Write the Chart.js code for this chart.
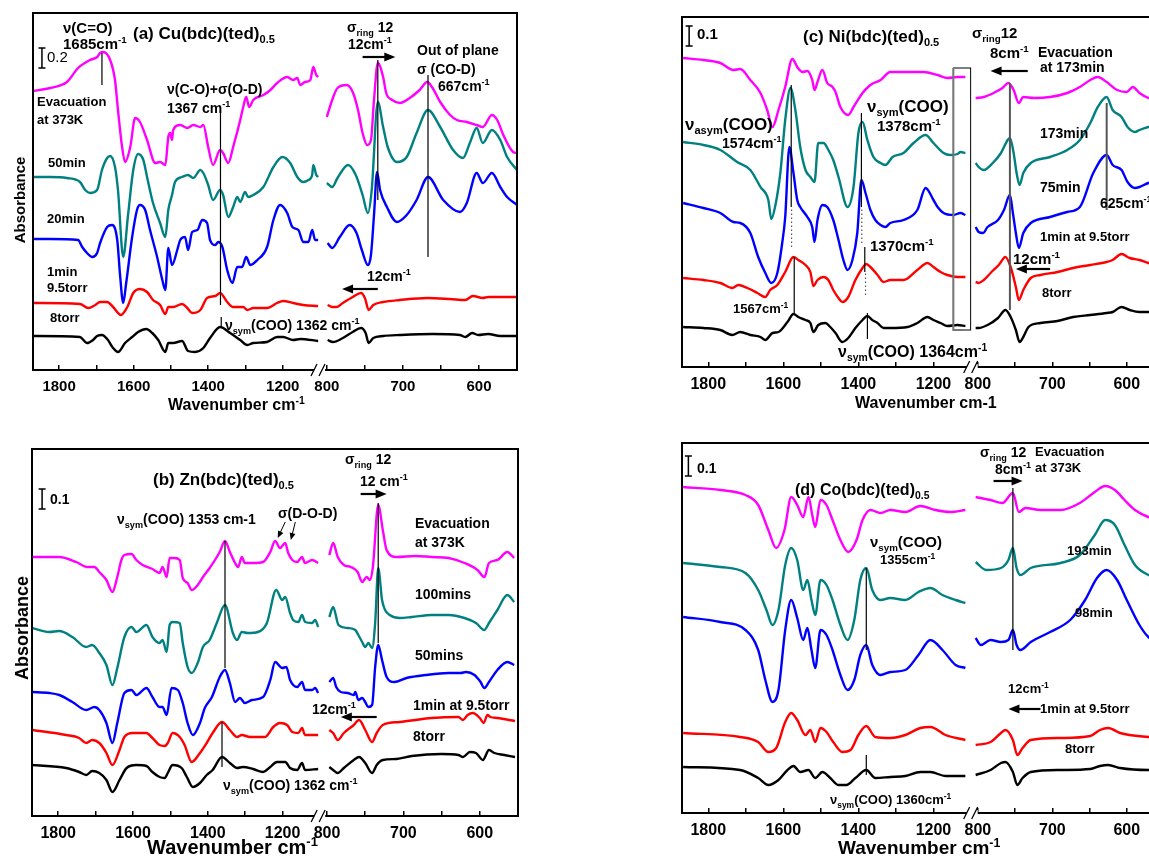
<!DOCTYPE html>
<html>
<head>
<meta charset="utf-8">
<title>IR spectra of M(bdc)(ted)0.5 under D2O</title>
<script src="https://cdn.jsdelivr.net/npm/chart.js@4.4.1/dist/chart.umd.min.js"></script>
<style>
  html, body { margin: 0; padding: 0; background: #fff; }
  body { position: relative; width: 1149px; height: 858px; overflow: hidden; font-family: "Liberation Sans", Arial, sans-serif; }
  .box { position: absolute; }
  .t { position: absolute; white-space: nowrap; line-height: 1; color: #000; }
  .t sub, .t sup { font-size: 65%; line-height: 0; }
  .rot { transform: translate(-50%, -50%) rotate(-90deg); }
</style>
</head>
<body>
<script>
const FONT = '"Liberation Sans", Arial, sans-serif';
const COLORS = ["#ff00ff", "#008080", "#0000ff", "#ff0000", "#000000"];

// x axis ticks (wavenumber, cm-1) of the two halves of the broken axis
const LEFT_TICKS = [1800, 1700, 1600, 1500, 1400, 1300, 1200];
const RIGHT_TICKS = [800, 750, 700, 650, 600];

// ---- (a) Cu(bdc)(ted)0.5 : [wavenumber, absorbance] ----
const A_L_EVAC = [[1870,2.79],[1824,2.82],[1779,2.88],[1749,3.02],[1717,3.10],[1698,3.13],[1690,3.17],[1682,3.18],[1663,3.10],[1650,2.90],[1642,2.60],[1631,2.23],[1623,2.08],[1609,2.23],[1596,2.52],[1583,2.48],[1564,2.30],[1542,2.07],[1529,2.08],[1515,2.05],[1507,2.33],[1502,2.37],[1497,2.30],[1494,2.40],[1475,2.45],[1456,2.42],[1440,2.45],[1421,2.43],[1413,2.45],[1400,2.23],[1387,2.05],[1368,2.20],[1360,2.17],[1346,2.07],[1333,2.23],[1314,2.50],[1306,2.63],[1298,2.73],[1290,2.63],[1279,2.70],[1252,2.75],[1233,2.80],[1215,2.87],[1188,2.93],[1172,2.90],[1161,2.92],[1153,2.85],[1140,2.88],[1126,2.90],[1118,3.03],[1110,2.95],[1105,2.93]];
const A_L_50 = [[1870,1.93],[1824,1.93],[1779,1.92],[1744,1.88],[1730,1.80],[1717,1.77],[1698,1.80],[1685,2.00],[1671,2.12],[1663,2.14],[1650,2.03],[1642,1.80],[1628,1.13],[1615,1.55],[1601,2.00],[1588,2.16],[1574,2.10],[1564,1.93],[1548,1.67],[1529,1.47],[1515,1.33],[1507,1.60],[1497,1.75],[1489,1.88],[1470,1.93],[1454,1.95],[1440,1.92],[1421,2.00],[1413,1.97],[1400,1.85],[1387,1.70],[1368,1.80],[1360,1.75],[1346,1.53],[1333,1.63],[1322,1.73],[1314,1.68],[1301,1.78],[1293,1.73],[1279,1.75],[1252,1.83],[1225,2.03],[1201,2.13],[1180,2.07],[1161,1.93],[1145,1.88],[1131,1.90],[1121,1.95],[1118,2.05],[1110,1.95],[1105,1.93]];
const A_L_20 = [[1870,1.31],[1824,1.31],[1749,1.30],[1738,1.23],[1725,1.17],[1711,1.13],[1698,1.17],[1690,1.27],[1671,1.43],[1658,1.45],[1644,1.30],[1636,0.93],[1628,0.67],[1620,0.87],[1604,1.33],[1591,1.60],[1583,1.65],[1569,1.60],[1556,1.40],[1537,1.13],[1523,0.90],[1515,0.80],[1507,1.22],[1497,1.05],[1483,1.20],[1475,1.30],[1462,1.33],[1454,1.20],[1443,1.38],[1429,1.40],[1416,1.50],[1403,1.47],[1395,1.30],[1381,1.25],[1373,1.28],[1362,1.23],[1349,1.00],[1335,0.87],[1322,1.03],[1309,1.03],[1298,1.13],[1287,1.05],[1268,1.10],[1242,1.23],[1225,1.50],[1207,1.65],[1188,1.57],[1174,1.43],[1158,1.40],[1145,1.28],[1131,1.28],[1121,1.40],[1113,1.30],[1105,1.30]];
const A_L_1 = [[1870,0.67],[1744,0.66],[1722,0.62],[1703,0.65],[1690,0.68],[1671,0.68],[1655,0.63],[1634,0.55],[1617,0.63],[1601,0.77],[1583,0.81],[1564,0.78],[1548,0.70],[1529,0.65],[1515,0.56],[1507,0.63],[1494,0.63],[1470,0.66],[1456,0.62],[1443,0.57],[1421,0.60],[1403,0.72],[1381,0.74],[1368,0.77],[1349,0.68],[1333,0.63],[1306,0.63],[1295,0.60],[1279,0.62],[1242,0.62],[1215,0.67],[1199,0.69],[1172,0.67],[1145,0.65],[1105,0.64]];
const A_L_8 = [[1870,0.34],[1744,0.33],[1725,0.27],[1709,0.30],[1698,0.34],[1685,0.35],[1671,0.31],[1655,0.22],[1642,0.18],[1623,0.27],[1604,0.33],[1588,0.38],[1566,0.41],[1550,0.37],[1534,0.30],[1515,0.18],[1507,0.27],[1494,0.27],[1470,0.29],[1454,0.19],[1435,0.18],[1413,0.22],[1395,0.32],[1368,0.43],[1341,0.37],[1314,0.30],[1295,0.25],[1279,0.27],[1242,0.28],[1215,0.33],[1199,0.33],[1172,0.30],[1153,0.31],[1105,0.29]];
const A_R_EVAC = [[800,2.53],[793,2.70],[786,2.82],[774,2.85],[766,2.78],[759,2.60],[753,2.37],[747,2.25],[742,2.30],[738,2.70],[733,3.07],[726,2.93],[722,2.77],[714,2.70],[704,2.67],[691,2.72],[678,2.80],[668,2.88],[661,2.82],[651,2.68],[638,2.55],[629,2.50],[616,2.48],[603,2.45],[595,2.43],[583,2.55],[576,2.50],[568,2.35],[555,2.18],[550,2.17]];
const A_R_50 = [[800,1.87],[793,1.83],[786,1.92],[772,2.05],[762,1.95],[753,1.75],[746,1.57],[741,1.80],[733,2.68],[726,2.43],[720,2.23],[708,2.08],[695,2.13],[682,2.37],[667,2.60],[651,2.43],[634,2.20],[621,2.12],[612,2.27],[603,2.42],[595,2.27],[583,2.40],[572,2.30],[563,2.13],[550,2.00]];
const A_R_20 = [[799,1.27],[793,1.22],[783,1.33],[770,1.45],[761,1.37],[754,1.20],[746,1.05],[742,1.15],[738,1.55],[734,1.98],[730,1.80],[721,1.63],[708,1.48],[695,1.55],[682,1.70],[667,1.93],[647,1.70],[625,1.58],[616,1.67],[603,1.97],[595,1.87],[583,1.97],[572,1.83],[563,1.73],[550,1.65]];
const A_R_1 = [[799,0.65],[793,0.63],[787,0.63],[779,0.67],[766,0.73],[755,0.77],[750,0.72],[745,0.60],[739,0.65],[726,0.68],[704,0.70],[668,0.72],[638,0.71],[618,0.70],[608,0.74],[595,0.72],[588,0.73],[550,0.73]];
const A_R_8 = [[799,0.30],[792,0.28],[779,0.32],[766,0.38],[755,0.42],[749,0.37],[745,0.27],[739,0.32],[726,0.34],[704,0.35],[661,0.36],[625,0.35],[618,0.33],[609,0.37],[601,0.35],[588,0.36],[572,0.34],[550,0.34]];

// ---- (b) Zn(bdc)(ted)0.5 ----
const B_L_EVAC = [[1870,1.295],[1824,1.295],[1797,1.295],[1752,1.27],[1722,1.245],[1703,1.245],[1690,1.22],[1671,1.18],[1655,1.12],[1642,1.195],[1631,1.28],[1623,1.305],[1604,1.31],[1591,1.28],[1574,1.255],[1548,1.235],[1529,1.215],[1521,1.245],[1510,1.195],[1502,1.29],[1489,1.29],[1475,1.28],[1467,1.19],[1454,1.165],[1443,1.13],[1427,1.155],[1413,1.195],[1395,1.24],[1368,1.32],[1354,1.375],[1341,1.32],[1327,1.265],[1319,1.245],[1309,1.295],[1301,1.265],[1279,1.265],[1252,1.27],[1233,1.32],[1220,1.375],[1207,1.34],[1193,1.365],[1185,1.315],[1174,1.28],[1161,1.27],[1148,1.295],[1140,1.265],[1121,1.28],[1105,1.265]];
const B_L_100 = [[1870,0.94],[1824,0.92],[1797,0.925],[1762,0.895],[1725,0.845],[1709,0.855],[1690,0.815],[1671,0.755],[1655,0.655],[1642,0.74],[1623,0.895],[1604,0.945],[1591,0.92],[1564,0.955],[1548,0.895],[1529,0.865],[1521,0.88],[1510,0.82],[1502,0.955],[1494,0.97],[1475,0.965],[1467,0.865],[1454,0.745],[1443,0.715],[1427,0.765],[1413,0.845],[1395,0.88],[1376,0.965],[1354,1.055],[1333,0.915],[1322,0.88],[1309,0.92],[1293,0.915],[1266,0.92],[1242,0.965],[1217,1.13],[1201,1.08],[1193,1.095],[1180,1.015],[1172,0.98],[1158,0.97],[1148,1.005],[1140,0.97],[1121,0.965],[1113,0.98],[1105,0.945]];
const B_L_50 = [[1870,0.62],[1824,0.615],[1797,0.605],[1762,0.57],[1725,0.53],[1703,0.545],[1690,0.53],[1671,0.465],[1655,0.365],[1642,0.465],[1623,0.615],[1604,0.63],[1591,0.605],[1564,0.64],[1548,0.595],[1529,0.545],[1521,0.545],[1510,0.505],[1497,0.64],[1480,0.63],[1467,0.565],[1454,0.465],[1440,0.405],[1421,0.465],[1408,0.54],[1389,0.595],[1368,0.695],[1354,0.73],[1341,0.665],[1327,0.57],[1314,0.59],[1301,0.565],[1282,0.58],[1252,0.595],[1233,0.68],[1220,0.77],[1201,0.74],[1190,0.745],[1180,0.68],[1161,0.645],[1148,0.67],[1140,0.63],[1121,0.63],[1113,0.64],[1105,0.615]];
const B_L_1 = [[1870,0.43],[1779,0.405],[1744,0.39],[1725,0.365],[1709,0.38],[1690,0.365],[1671,0.315],[1655,0.255],[1636,0.33],[1623,0.395],[1601,0.415],[1564,0.415],[1548,0.39],[1529,0.355],[1515,0.35],[1507,0.365],[1494,0.415],[1475,0.395],[1462,0.355],[1443,0.27],[1421,0.315],[1403,0.365],[1387,0.415],[1362,0.47],[1341,0.43],[1322,0.395],[1309,0.405],[1287,0.395],[1247,0.395],[1225,0.445],[1207,0.465],[1188,0.455],[1174,0.42],[1158,0.415],[1148,0.44],[1140,0.405],[1105,0.405]];
const B_L_8 = [[1870,0.255],[1779,0.24],[1744,0.22],[1725,0.205],[1709,0.225],[1690,0.215],[1671,0.18],[1655,0.12],[1636,0.18],[1617,0.24],[1591,0.255],[1564,0.25],[1548,0.22],[1529,0.195],[1515,0.19],[1507,0.215],[1494,0.255],[1470,0.24],[1456,0.195],[1440,0.145],[1421,0.165],[1403,0.205],[1387,0.23],[1362,0.295],[1341,0.265],[1322,0.24],[1306,0.245],[1279,0.235],[1252,0.22],[1233,0.245],[1215,0.27],[1193,0.27],[1180,0.24],[1161,0.23],[1148,0.265],[1140,0.23],[1105,0.235]];
const B_R_EVAC = [[797,1.305],[792,1.365],[786,1.295],[778,1.255],[769,1.245],[760,1.22],[754,1.17],[748,1.195],[744,1.18],[740,1.245],[733,1.555],[727,1.43],[722,1.33],[709,1.295],[684,1.30],[663,1.295],[641,1.29],[620,1.265],[603,1.23],[594,1.195],[588,1.265],[577,1.28],[564,1.32],[555,1.29]];
const B_R_100 = [[797,0.995],[792,1.045],[785,0.955],[773,0.94],[763,0.93],[759,0.905],[754,0.87],[750,0.845],[746,0.865],[741,0.84],[737,0.965],[733,1.24],[728,1.08],[724,1.03],[718,1.005],[705,0.99],[689,0.995],[663,1.005],[641,1.005],[620,0.99],[605,0.965],[594,0.93],[588,0.965],[577,1.03],[564,1.105],[555,1.07]];
const B_R_50 = [[797,0.67],[792,0.69],[788,0.645],[782,0.62],[773,0.615],[765,0.605],[763,0.62],[759,0.58],[754,0.59],[750,0.57],[746,0.545],[741,0.555],[737,0.745],[733,0.855],[728,0.78],[722,0.695],[712,0.67],[696,0.69],[671,0.705],[641,0.715],[625,0.715],[618,0.72],[607,0.705],[599,0.67],[594,0.64],[588,0.67],[577,0.73],[564,0.77],[555,0.755]];
const B_R_1 = [[797,0.43],[792,0.415],[786,0.38],[778,0.415],[765,0.455],[758,0.48],[750,0.43],[741,0.37],[735,0.415],[727,0.455],[705,0.47],[663,0.49],[628,0.495],[622,0.48],[616,0.505],[609,0.515],[600,0.49],[595,0.465],[590,0.505],[586,0.495],[577,0.49],[554,0.475]];
const B_R_8 = [[797,0.245],[792,0.23],[786,0.215],[778,0.24],[765,0.28],[758,0.295],[750,0.265],[741,0.215],[735,0.255],[727,0.28],[709,0.285],[689,0.30],[650,0.31],[628,0.305],[622,0.295],[613,0.32],[605,0.315],[596,0.28],[588,0.33],[581,0.315],[568,0.305],[554,0.295]];

// ---- (c) Ni(bdc)(ted)0.5 ----
const C_L_EVAC = [[1867,1.545],[1813,1.535],[1768,1.52],[1733,1.485],[1715,1.49],[1688,1.435],[1661,1.37],[1643,1.285],[1629,1.20],[1613,1.285],[1595,1.40],[1576,1.54],[1563,1.50],[1549,1.475],[1536,1.48],[1523,1.435],[1517,1.385],[1509,1.425],[1496,1.485],[1483,1.42],[1469,1.40],[1461,1.375],[1448,1.30],[1427,1.26],[1413,1.30],[1389,1.37],[1368,1.41],[1341,1.435],[1315,1.475],[1280,1.475],[1227,1.475],[1189,1.46],[1163,1.445],[1136,1.45],[1115,1.45]];
const C_L_173 = [[1867,1.125],[1813,1.11],[1768,1.085],[1723,1.025],[1688,0.985],[1661,0.90],[1640,0.835],[1632,0.74],[1621,0.81],[1608,0.97],[1595,1.235],[1581,1.395],[1568,1.285],[1555,1.10],[1541,0.985],[1528,0.95],[1517,0.925],[1507,1.12],[1493,1.12],[1480,1.085],[1467,1.035],[1453,0.95],[1429,0.80],[1413,0.90],[1400,1.17],[1389,1.225],[1376,1.135],[1360,1.05],[1341,1.02],[1328,1.01],[1309,1.05],[1280,1.07],[1253,1.12],[1221,1.16],[1200,1.12],[1173,1.07],[1155,1.06],[1136,1.065],[1128,1.075],[1115,1.07]];
const C_L_75 = [[1867,0.82],[1813,0.795],[1768,0.77],[1733,0.725],[1715,0.72],[1688,0.67],[1667,0.55],[1648,0.47],[1632,0.42],[1616,0.47],[1603,0.62],[1595,0.75],[1584,1.10],[1573,0.97],[1563,0.835],[1555,0.80],[1536,0.75],[1523,0.70],[1517,0.625],[1509,0.735],[1496,0.81],[1483,0.80],[1467,0.735],[1453,0.635],[1440,0.535],[1429,0.485],[1416,0.535],[1403,0.67],[1392,0.935],[1381,0.87],[1368,0.785],[1355,0.735],[1341,0.71],[1328,0.70],[1315,0.72],[1280,0.735],[1243,0.785],[1221,0.895],[1200,0.835],[1189,0.80],[1173,0.77],[1147,0.76],[1128,0.77],[1115,0.76]];
const C_L_1 = [[1867,0.445],[1813,0.435],[1768,0.42],[1736,0.395],[1720,0.41],[1696,0.395],[1669,0.37],[1648,0.35],[1635,0.385],[1616,0.41],[1595,0.475],[1573,0.55],[1560,0.535],[1541,0.51],[1528,0.475],[1520,0.405],[1509,0.435],[1493,0.45],[1480,0.435],[1467,0.385],[1453,0.345],[1443,0.325],[1427,0.35],[1408,0.435],[1389,0.495],[1379,0.515],[1368,0.50],[1349,0.46],[1333,0.425],[1315,0.435],[1280,0.435],[1243,0.485],[1216,0.52],[1200,0.50],[1181,0.475],[1163,0.46],[1136,0.45],[1115,0.45]];
const C_L_8 = [[1867,0.20],[1813,0.195],[1768,0.185],[1736,0.16],[1715,0.175],[1688,0.16],[1661,0.15],[1648,0.135],[1629,0.17],[1613,0.175],[1589,0.225],[1573,0.265],[1560,0.25],[1541,0.235],[1528,0.22],[1520,0.175],[1507,0.21],[1488,0.22],[1475,0.20],[1461,0.17],[1443,0.125],[1427,0.145],[1408,0.195],[1389,0.235],[1376,0.255],[1363,0.235],[1349,0.22],[1333,0.195],[1315,0.195],[1269,0.20],[1243,0.22],[1216,0.25],[1200,0.235],[1181,0.22],[1163,0.205],[1136,0.21],[1115,0.205]];
const C_R_EVAC = [[803,1.345],[792,1.35],[779,1.37],[767,1.395],[759,1.42],[752,1.385],[745,1.32],[739,1.35],[725,1.345],[703,1.35],[680,1.37],[663,1.40],[649,1.435],[639,1.45],[627,1.425],[613,1.385],[600,1.375],[592,1.40],[583,1.37],[571,1.345],[550,1.325]];
const C_R_173 = [[803,1.02],[799,1.00],[792,0.985],[780,1.02],[769,1.07],[760,1.135],[757,1.145],[752,1.07],[748,0.97],[744,0.91],[739,0.97],[729,1.02],[703,1.05],[680,1.085],[663,1.135],[649,1.22],[639,1.30],[627,1.35],[619,1.285],[607,1.25],[599,1.20],[589,1.175],[583,1.185],[571,1.20],[550,1.21]];
const C_R_75 = [[803,0.70],[799,0.675],[793,0.67],[787,0.70],[773,0.735],[765,0.785],[757,0.86],[753,0.77],[749,0.67],[745,0.595],[739,0.67],[729,0.72],[703,0.75],[680,0.775],[663,0.80],[645,0.97],[627,1.06],[619,1.01],[607,0.985],[599,0.925],[589,0.895],[583,0.90],[571,0.92],[550,0.935]];
const C_R_1 = [[803,0.425],[799,0.42],[792,0.435],[783,0.47],[772,0.51],[763,0.55],[756,0.50],[749,0.40],[745,0.335],[739,0.385],[729,0.445],[716,0.46],[693,0.475],[672,0.495],[649,0.51],[627,0.525],[619,0.535],[607,0.565],[596,0.545],[583,0.535],[571,0.52],[550,0.505]];
const C_R_8 = [[803,0.195],[799,0.195],[787,0.21],[773,0.245],[763,0.285],[756,0.25],[749,0.185],[744,0.125],[739,0.15],[732,0.20],[716,0.22],[693,0.23],[672,0.25],[649,0.26],[627,0.27],[619,0.275],[607,0.30],[596,0.285],[583,0.275],[571,0.275],[550,0.27]];

// ---- (d) Co(bdc)(ted)0.5 ----
const D_L_EVAC = [[1867,1.63],[1768,1.615],[1701,1.59],[1667,1.54],[1640,1.415],[1619,1.325],[1597,1.415],[1579,1.58],[1563,1.54],[1547,1.48],[1533,1.58],[1523,1.49],[1515,1.43],[1501,1.565],[1485,1.54],[1469,1.465],[1448,1.365],[1427,1.305],[1405,1.365],[1389,1.465],[1368,1.515],[1341,1.50],[1315,1.515],[1275,1.505],[1235,1.535],[1195,1.515],[1155,1.505],[1115,1.515]];
const D_L_193 = [[1867,1.25],[1768,1.23],[1701,1.20],[1667,1.115],[1645,1.015],[1629,0.94],[1613,1.015],[1595,1.24],[1579,1.325],[1563,1.265],[1547,1.115],[1536,1.165],[1525,1.065],[1515,0.99],[1501,1.165],[1485,1.14],[1469,1.065],[1448,0.94],[1429,0.865],[1411,0.965],[1395,1.165],[1379,1.225],[1363,1.115],[1341,1.065],[1315,1.075],[1275,1.065],[1240,1.105],[1208,1.125],[1176,1.09],[1141,1.065],[1115,1.05]];
const D_L_98 = [[1867,0.98],[1768,0.955],[1701,0.915],[1667,0.815],[1648,0.665],[1629,0.555],[1613,0.615],[1595,0.915],[1579,1.065],[1563,0.975],[1547,0.865],[1536,0.925],[1525,0.815],[1515,0.725],[1501,0.915],[1485,0.89],[1469,0.815],[1448,0.69],[1429,0.615],[1411,0.665],[1395,0.79],[1379,0.84],[1363,0.74],[1341,0.69],[1315,0.705],[1275,0.715],[1240,0.79],[1208,0.865],[1176,0.815],[1141,0.74],[1115,0.725]];
const D_L_1 = [[1867,0.40],[1715,0.38],[1667,0.355],[1640,0.305],[1619,0.325],[1595,0.455],[1579,0.50],[1563,0.465],[1541,0.39],[1528,0.415],[1515,0.355],[1501,0.425],[1485,0.405],[1467,0.355],[1443,0.305],[1421,0.315],[1400,0.39],[1379,0.435],[1355,0.38],[1315,0.375],[1275,0.39],[1235,0.425],[1208,0.43],[1168,0.39],[1115,0.365]];
const D_L_8 = [[1867,0.23],[1715,0.215],[1667,0.175],[1640,0.14],[1613,0.165],[1589,0.215],[1573,0.235],[1555,0.205],[1533,0.215],[1515,0.175],[1496,0.205],[1475,0.175],[1453,0.14],[1432,0.14],[1408,0.175],[1379,0.215],[1355,0.175],[1315,0.18],[1275,0.185],[1235,0.205],[1208,0.205],[1168,0.185],[1115,0.185]];
const D_R_EVAC = [[803,1.58],[783,1.565],[767,1.55],[753,1.60],[745,1.505],[736,1.525],[716,1.515],[689,1.515],[663,1.55],[643,1.605],[629,1.635],[616,1.615],[603,1.565],[589,1.515],[571,1.48],[550,1.465]];
const D_R_193 = [[803,1.255],[789,1.215],[769,1.225],[759,1.265],[753,1.325],[748,1.225],[743,1.19],[729,1.225],[689,1.25],[663,1.29],[643,1.39],[629,1.465],[616,1.44],[603,1.34],[589,1.24],[571,1.19],[550,1.165]];
const D_R_98 = [[803,0.875],[796,0.84],[783,0.865],[769,0.855],[759,0.865],[753,0.915],[748,0.84],[743,0.815],[729,0.855],[703,0.905],[676,0.965],[656,1.065],[640,1.175],[627,1.215],[613,1.165],[600,1.065],[583,0.94],[571,0.88],[550,0.84]];
const D_R_1 = [[803,0.34],[783,0.355],[769,0.40],[763,0.415],[753,0.365],[747,0.29],[740,0.325],[729,0.365],[689,0.375],[649,0.385],[636,0.415],[625,0.425],[609,0.40],[571,0.38],[550,0.375]];
const D_R_8 = [[803,0.19],[783,0.215],[769,0.25],[763,0.255],[753,0.205],[747,0.14],[740,0.175],[729,0.205],[689,0.215],[649,0.22],[636,0.235],[625,0.24],[609,0.225],[571,0.215],[550,0.215]];

// ---- guide lines, arrows and scale bars, in data units ----
const A_L_MARKS = [
  { k: "bar", x: 1846, y1: 3.02, y2: 3.22 },
  { k: "v", x: 1685, y1: 2.85, y2: 3.17 },
  { k: "v", x: 1367, y1: 0.65, y2: 2.60 },
  { k: "v", x: 1365, y1: 0.43, y2: 0.53 },
];
const A_R_MARKS = [
  { k: "v", x: 733, y1: 1.70, y2: 3.10 },
  { k: "v", x: 667, y1: 1.13, y2: 2.95 },
  { k: "a", x1: 753, y1: 3.13, x2: 710, y2: 3.13 },
  { k: "a", x1: 733, y1: 0.81, x2: 780, y2: 0.81 },
];
const B_L_MARKS = [
  { k: "bar", x: 1843, y1: 1.535, y2: 1.635 },
  { k: "v", x: 1354, y1: 0.74, y2: 1.375 },
  { k: "v", x: 1362, y1: 0.245, y2: 0.47 },
  { k: "a", x1: 1193, y1: 1.47, x2: 1213, y2: 1.39, thin: true },
  { k: "a", x1: 1166, y1: 1.47, x2: 1178, y2: 1.38, thin: true },
];
const B_R_MARKS = [
  { k: "v", x: 733, y1: 0.865, y2: 1.565 },
  { k: "a", x1: 756, y1: 1.61, x2: 722, y2: 1.61 },
  { k: "a", x1: 735, y1: 0.495, x2: 782, y2: 0.495 },
];
const C_L_MARKS = [
  { k: "bar", x: 1851, y1: 1.605, y2: 1.705 },
  { k: "v", x: 1579, y1: 0.80, y2: 1.41 },
  { k: "v", x: 1578, y1: 0.60, y2: 0.80, dash: true },
  { k: "v", x: 1571, y1: 0.27, y2: 0.55 },
  { k: "v", x: 1392, y1: 0.80, y2: 1.27 },
  { k: "v", x: 1391, y1: 0.62, y2: 0.80, dash: true },
  { k: "v", x: 1383, y1: 0.475, y2: 0.60 },
  { k: "v", x: 1381, y1: 0.36, y2: 0.475, dash: true },
  { k: "v", x: 1376, y1: 0.14, y2: 0.27 },
  { k: "box", x1: 1147, x2: 1101, y1: 0.185, y2: 1.495 },
];
const C_R_MARKS = [
  { k: "v", x: 757, y1: 0.285, y2: 1.42, gray: true },
  { k: "v", x: 627, y1: 0.785, y2: 1.32, gray: true },
  { k: "a", x1: 733, y1: 1.48, x2: 783, y2: 1.48 },
  { k: "a", x1: 703, y1: 0.49, x2: 749, y2: 0.49 },
];
const D_L_MARKS = [
  { k: "bar", x: 1853, y1: 1.685, y2: 1.785 },
  { k: "v", x: 1379, y1: 0.815, y2: 1.225 },
  { k: "v", x: 1379, y1: 0.19, y2: 0.29 },
];
const D_R_MARKS = [
  { k: "v", x: 753, y1: 0.815, y2: 1.625 },
  { k: "a", x1: 779, y1: 1.66, x2: 740, y2: 1.66 },
  { k: "a", x1: 716, y1: 0.52, x2: 759, y2: 0.52 },
];

// panel geometry in page pixels (plot area edges, split = broken-axis gap)
const PANELS = [
  { top: 13, bottom: 370, left: 33, split: 320, right: 517, yMax: 3.57, rMax: 809, font: 15, rightFrame: true,
    L: [A_L_EVAC, A_L_50, A_L_20, A_L_1, A_L_8], R: [A_R_EVAC, A_R_50, A_R_20, A_R_1, A_R_8], LM: A_L_MARKS, RM: A_R_MARKS },
  { top: 449, bottom: 816, left: 32, split: 320, right: 518, yMax: 1.835, rMax: 809, font: 16, rightFrame: true,
    L: [B_L_EVAC, B_L_100, B_L_50, B_L_1, B_L_8], R: [B_R_EVAC, B_R_100, B_R_50, B_R_1, B_R_8], LM: B_L_MARKS, RM: B_R_MARKS },
  { top: 17, bottom: 367, left: 682, split: 971, right: 1164, yMax: 1.75, rMax: 807, font: 16, rightFrame: false,
    L: [C_L_EVAC, C_L_173, C_L_75, C_L_1, C_L_8], R: [C_R_EVAC, C_R_173, C_R_75, C_R_1, C_R_8], LM: C_L_MARKS, RM: C_R_MARKS },
  { top: 443, bottom: 813, left: 682, split: 971, right: 1164, yMax: 1.85, rMax: 807, font: 16, rightFrame: false,
    L: [D_L_EVAC, D_L_193, D_L_98, D_L_1, D_L_8], R: [D_R_EVAC, D_R_193, D_R_98, D_R_1, D_R_8], LM: D_L_MARKS, RM: D_R_MARKS },
];

// [left, top, font size, html, weight]
const LABELS = [
  [63, 20, 15, "ν(C=O)"], [63, 36, 15, "1685cm<sup>-1</sup>"],
  [133, 25, 17, "(a) Cu(bdc)(ted)<sub>0.5</sub>"],
  [47, 49, 15, "0.2", "normal"],
  [37, 95, 13, "Evacuation"], [37, 113, 13, "at 373K"],
  [167, 82, 14, "ν(C-O)+σ(O-D)"], [167, 101, 14, "1367 cm<sup>-1</sup>"],
  [48, 156, 13, "50min"], [47, 212, 13, "20min"], [47, 265, 13, "1min"], [47, 281, 13, "9.5torr"], [50, 311, 13, "8torr"],
  [225, 318, 14, "ν<sub>sym</sub>(COO) 1362 cm<sup>-1</sup>"],
  [347, 20, 14, "σ<sub>ring</sub> 12"], [348, 37, 14, "12cm<sup>-1</sup>"],
  [417, 43, 14, "Out of plane"], [417, 62, 14, "σ (CO-D)"], [438, 79, 14, "667cm<sup>-1</sup>"],
  [367, 269, 14, "12cm<sup>-1</sup>"],
  [168, 397, 16, "Wavenumber cm<sup>-1</sup>"],

  [153, 471, 17, "(b) Zn(bdc)(ted)<sub>0.5</sub>"],
  [50, 492, 14, "0.1"],
  [117, 512, 14, "ν<sub>sym</sub>(COO) 1353 cm-1"],
  [278, 506, 14, "σ(D-O-D)"],
  [345, 452, 14, "σ<sub>ring</sub> 12"], [360, 474, 14, "12 cm<sup>-1</sup>"],
  [415, 516, 14, "Evacuation"], [415, 535, 14, "at 373K"],
  [415, 587, 14, "100mins"], [415, 648, 14, "50mins"], [413, 698, 14, "1min at 9.5torr"], [413, 729, 14, "8torr"],
  [312, 702, 14, "12cm<sup>-1</sup>"],
  [223, 778, 14, "ν<sub>sym</sub>(COO) 1362 cm<sup>-1</sup>"],
  [147, 837, 20, "Wavenumber cm<sup>-1</sup>"],

  [697, 26, 15, "0.1"],
  [803, 28, 17, "(c) Ni(bdc)(ted)<sub>0.5</sub>"],
  [685, 116, 17, "ν<sub>asym</sub>(COO)"], [722, 136, 14, "1574cm<sup>-1</sup>"],
  [867, 98, 17, "ν<sub>sym</sub>(COO)"], [877, 118, 15, "1378cm<sup>-1</sup>"],
  [870, 238, 15, "1370cm<sup>-1</sup>"],
  [733, 302, 13, "1567cm<sup>-1</sup>"],
  [838, 344, 16, "ν<sub>sym</sub>(COO) 1364cm<sup>-1</sup>"],
  [972, 25, 15, "σ<sub>ring</sub>12"], [990, 45, 15, "8cm<sup>-1</sup>"],
  [1038, 45, 14, "Evacuation"], [1040, 60, 14, "at 173min"],
  [1040, 126, 14, "173min"], [1040, 180, 14, "75min"], [1100, 196, 14, "625cm<sup>-1</sup>"],
  [1040, 230, 13, "1min at 9.5torr"], [1013, 251, 15, "12cm<sup>-1</sup>"], [1042, 286, 13, "8torr"],
  [855, 395, 16, "Wavenumber cm-1"],

  [697, 461, 14, "0.1"],
  [795, 482, 16, "(d) Co(bdc)(ted)<sub>0.5</sub>"],
  [870, 534, 15, "ν<sub>sym</sub>(COO)"], [880, 553, 13, "1355cm<sup>-1</sup>"],
  [980, 445, 14, "σ<sub>ring</sub> 12"], [995, 462, 14, "8cm<sup>-1</sup>"],
  [1035, 445, 13, "Evacuation"], [1035, 461, 13, "at 373K"],
  [1067, 544, 13, "193min"], [1075, 606, 13, "98min"],
  [1008, 682, 13, "12cm<sup>-1</sup>"], [1040, 702, 13, "1min at 9.5torr"], [1065, 742, 13, "8torr"],
  [830, 793, 13, "ν<sub>sym</sub>(COO) 1360cm<sup>-1</sup>"],
  [838, 838, 19, "Wavenumber cm<sup>-1</sup>"],
];
// rotated y titles: [centre x, centre y, font size]
const Y_TITLES = [[19, 200, 15], [22, 628, 18]];

const PAD_X = 20, PAD_TOP = 10, AXIS_H = 40;

function arrow(ctx, x1, y1, x2, y2, head) {
  const ang = Math.atan2(y2 - y1, x2 - x1);
  const c = Math.cos(ang), s = Math.sin(ang);
  ctx.beginPath();
  ctx.moveTo(x1, y1);
  ctx.lineTo(x2 - head * 0.8 * c, y2 - head * 0.8 * s);
  ctx.stroke();
  ctx.beginPath();
  ctx.moveTo(x2, y2);
  ctx.lineTo(x2 - head * c + head * 0.42 * s, y2 - head * s - head * 0.42 * c);
  ctx.lineTo(x2 - head * c - head * 0.42 * s, y2 - head * s + head * 0.42 * c);
  ctx.closePath();
  ctx.fill();
}

// frame lines, break marks and guide marks drawn over the plot
function framePlugin(frame, marks) {
  return {
    id: "frame",
    afterDraw(chart) {
      const { ctx, chartArea: a } = chart;
      const X = (v) => chart.scales.x.getPixelForValue(v);
      const Y = (v) => chart.scales.y.getPixelForValue(v);
      ctx.save();
      ctx.strokeStyle = "#000";
      ctx.fillStyle = "#000";
      ctx.lineWidth = 2;
      ctx.beginPath();
      ctx.moveTo(a.left - 1, a.top);
      ctx.lineTo(a.right + 1, a.top);
      if (frame.left) { ctx.moveTo(a.left, a.top); ctx.lineTo(a.left, a.bottom + 1); }
      if (frame.right) { ctx.moveTo(a.right, a.top); ctx.lineTo(a.right, a.bottom + 1); }
      ctx.stroke();

      if (frame.brk) {
        ctx.fillStyle = "#fff";
        ctx.fillRect(a.left - 6, a.bottom - 3, 11, 6);
        ctx.fillStyle = "#000";
        ctx.lineWidth = 1.3;
        ctx.beginPath();
        ctx.moveTo(a.left - 9, a.bottom + 6); ctx.lineTo(a.left - 3, a.bottom - 6);
        ctx.moveTo(a.left - 1, a.bottom + 6); ctx.lineTo(a.left + 5, a.bottom - 6);
        ctx.stroke();
      }

      for (const m of marks) {
        ctx.setLineDash([]);
        if (m.k === "v") {
          ctx.strokeStyle = m.gray ? "#555" : "#000";
          ctx.lineWidth = m.gray ? 2 : 1.2;
          if (m.dash) { ctx.strokeStyle = "#555"; ctx.setLineDash([1.5, 2.5]); }
          ctx.beginPath();
          ctx.moveTo(X(m.x), Y(m.y1));
          ctx.lineTo(X(m.x), Y(m.y2));
          ctx.stroke();
        } else if (m.k === "a") {
          ctx.strokeStyle = "#000";
          ctx.lineWidth = m.thin ? 1 : 2.2;
          arrow(ctx, X(m.x1), Y(m.y1), X(m.x2), Y(m.y2), m.thin ? 7 : 11);
        } else if (m.k === "bar") {
          const x = X(m.x), ya = Y(m.y1), yb = Y(m.y2);
          ctx.strokeStyle = "#000";
          ctx.lineWidth = 1.5;
          ctx.beginPath();
          ctx.moveTo(x, ya); ctx.lineTo(x, yb);
          ctx.moveTo(x - 3.5, ya); ctx.lineTo(x + 3.5, ya);
          ctx.moveTo(x - 3.5, yb); ctx.lineTo(x + 3.5, yb);
          ctx.stroke();
        } else if (m.k === "box") {
          const xa = X(m.x1), xb = X(m.x2), ya = Y(m.y1), yb = Y(m.y2);
          ctx.strokeStyle = "#000";
          ctx.lineWidth = 1;
          ctx.strokeRect(xa, yb, xb - xa, ya - yb);
          ctx.strokeStyle = "#777";
          ctx.lineWidth = 2;
          ctx.beginPath();
          ctx.moveTo(xa, yb); ctx.lineTo(xa, ya); ctx.lineTo(xa + 10, ya);
          ctx.stroke();
        }
      }
      ctx.restore();
    },
  };
}

function makeChart(px, py, w, h, xMin, xMax, ticks, major, yMax, series, marks, frame, fontSize) {
  const wrap = document.createElement("div");
  wrap.className = "box";
  wrap.style.left = px - PAD_X + "px";
  wrap.style.top = py - PAD_TOP + "px";
  wrap.style.width = w + 2 * PAD_X + "px";
  wrap.style.height = h + PAD_TOP + AXIS_H + "px";
  const canvas = document.createElement("canvas");
  wrap.appendChild(canvas);
  document.body.appendChild(wrap);

  return new Chart(canvas, {
    type: "line",
    data: {
      datasets: series.map((s, i) => ({
        data: s.map(([x, y]) => ({ x, y })),
        borderColor: COLORS[i],
        borderWidth: 2.4,
        pointRadius: 0,
        cubicInterpolationMode: "monotone",
        fill: false,
      })),
    },
    options: {
      animation: false,
      responsive: true,
      maintainAspectRatio: false,
      devicePixelRatio: 1,
      layout: { padding: { left: PAD_X, right: PAD_X, top: PAD_TOP, bottom: 0 } },
      plugins: { legend: { display: false }, tooltip: { enabled: false } },
      scales: {
        x: {
          type: "linear",
          reverse: true,
          min: xMin,
          max: xMax,
          afterBuildTicks: (s) => { s.ticks = ticks.map((v) => ({ value: v })); },
          afterFit: (s) => { s.height = AXIS_H; },
          ticks: {
            autoSkip: false,
            maxRotation: 0,
            padding: 13,
            color: "#000",
            font: { family: FONT, size: fontSize, weight: "bold" },
            callback: (v) => (v % major === 0 ? String(v) : ""),
          },
          grid: { drawOnChartArea: false, tickLength: -5, color: "#000", lineWidth: 1.5 },
          border: { color: "#000", width: 2 },
        },
        y: { display: false, min: 0, max: yMax },
      },
    },
    plugins: [framePlugin(frame, marks)],
  });
}

PANELS.forEach((p) => {
  const h = p.bottom - p.top;
  makeChart(p.left, p.top, p.split - p.left, h, 1100, 1870, LEFT_TICKS, 200, p.yMax, p.L, p.LM, { left: true }, p.font);
  makeChart(p.split, p.top, p.right - p.split, h, 550, p.rMax, RIGHT_TICKS, 100, p.yMax, p.R, p.RM, { right: p.rightFrame, brk: true }, p.font);
});

for (const [x, y, size, html, weight] of LABELS) {
  const d = document.createElement("div");
  d.className = "t";
  d.style.cssText = `left:${x}px;top:${y}px;font-size:${size}px;font-weight:${weight || "bold"}`;
  d.innerHTML = html;
  document.body.appendChild(d);
}
for (const [x, y, size] of Y_TITLES) {
  const d = document.createElement("div");
  d.className = "t rot";
  d.style.cssText = `left:${x}px;top:${y}px;font-size:${size}px;font-weight:bold`;
  d.textContent = "Absorbance";
  document.body.appendChild(d);
}
</script>
</body>
</html>
